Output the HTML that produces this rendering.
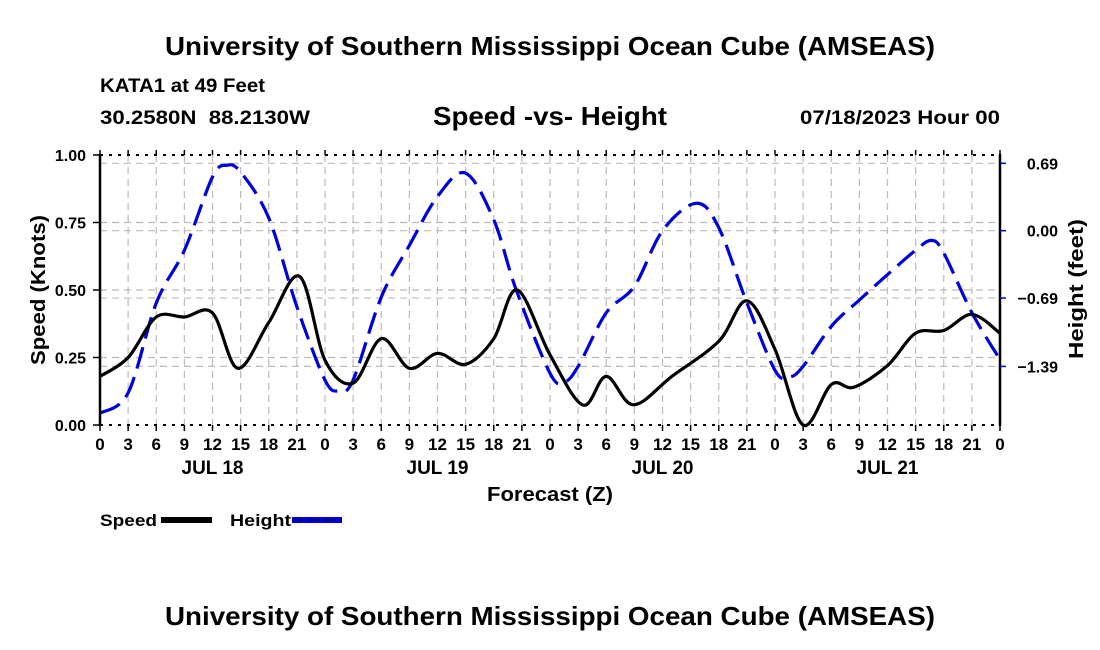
<!DOCTYPE html>
<html><head><meta charset="utf-8"><style>
html,body{margin:0;padding:0;background:#fff;}
svg{display:block;font-family:"Liberation Sans",Arial,sans-serif;font-weight:bold;}
</style></head><body>
<svg id="chart" width="1100" height="650" viewBox="0 0 1100 650" xmlns="http://www.w3.org/2000/svg">
<text x="165" y="55" font-size="26" textLength="770" lengthAdjust="spacingAndGlyphs">University of Southern Mississippi Ocean Cube (AMSEAS)</text>
<text x="100" y="92" font-size="19" textLength="165" lengthAdjust="spacingAndGlyphs">KATA1 at 49 Feet</text>
<text x="100" y="124" font-size="19" textLength="210" lengthAdjust="spacingAndGlyphs" xml:space="preserve">30.2580N  88.2130W</text>
<text x="433" y="125" font-size="26" textLength="234" lengthAdjust="spacingAndGlyphs">Speed -vs- Height</text>
<text x="800" y="124" font-size="19" textLength="200" lengthAdjust="spacingAndGlyphs">07/18/2023 Hour 00</text>
<g id="grid"></g>
<g id="series"></g>
<g id="axes"></g>
<text x="45" y="290" font-size="20" text-anchor="middle" textLength="150" lengthAdjust="spacingAndGlyphs" transform="rotate(-90 45 290)">Speed (Knots)</text>
<text x="1083" y="289" font-size="20" text-anchor="middle" textLength="140" lengthAdjust="spacingAndGlyphs" transform="rotate(-90 1083 289)">Height (feet)</text>
<text x="487" y="501" font-size="20" textLength="126" lengthAdjust="spacingAndGlyphs">Forecast (Z)</text>
<g>
<text x="100" y="526" font-size="17" textLength="57" lengthAdjust="spacingAndGlyphs">Speed</text>
<rect x="161" y="517" width="51" height="6" fill="#000"/>
<text x="230" y="526" font-size="17" textLength="61" lengthAdjust="spacingAndGlyphs">Height</text>
<rect x="292" y="517" width="50" height="6" fill="#0000dd"/>
<line x1="294" y1="520" x2="342" y2="520" stroke="#000066" stroke-width="1.5" stroke-dasharray="10,5"/>
</g>
<text x="165" y="625" font-size="26" textLength="770" lengthAdjust="spacingAndGlyphs">University of Southern Mississippi Ocean Cube (AMSEAS)</text>
</svg>
<script>
const speedHours=[0,3,6,9,12,14.7,18,21.3,24,27,30,33,36,39,42,44.5,48,51.5,54,56.9,61,66,69,72,75,78,80.4,84,87,90,93,96];
const speedValues=[0.18,0.25,0.40,0.40,0.415,0.21,0.38,0.55,0.24,0.155,0.32,0.21,0.265,0.225,0.32,0.50,0.26,0.074,0.18,0.075,0.18,0.31,0.46,0.28,0.0,0.15,0.14,0.22,0.34,0.35,0.41,0.34];
const heightHours=[0,3,6,9,12,13.5,15,18,21,24,25.5,27,30,33,36,39,42,44.4,48,49.5,51,54,57,60,63.6,66,69,72,73.5,75,78,81,84,87,88.7,90,93,96];
const heightValues=[-1.87,-1.66,-0.74,-0.20,0.55,0.67,0.60,0.13,-0.78,-1.53,-1.64,-1.53,-0.68,-0.15,0.35,0.59,0.11,-0.61,-1.46,-1.55,-1.39,-0.84,-0.57,0.0,0.28,0.03,-0.74,-1.43,-1.50,-1.39,-0.98,-0.71,-0.45,-0.20,-0.10,-0.23,-0.84,-1.32];
const speedTicks=[0,0.25,0.5,0.75,1.0];
const speedTickLabels=["0.00","0.25","0.50","0.75","1.00"];
const heightTicks=[0.69,0.0,-0.69,-1.39];
const heightTickLabels=["0.69","0.00","\u22120.69","\u22121.39"];
const dayLabels=["JUL 18","JUL 19","JUL 20","JUL 21"];

const X0=100,X1=1000,Y0=425,Y1=155;
const xs=h=>X0+(X1-X0)*h/96;
const ys=v=>Y0-(Y0-Y1)*v/1.0;
const HMIN=-1.99,HMAX=0.775;
const yh=v=>Y0-(Y0-Y1)*(v-HMIN)/(HMAX-HMIN);
const NS="http://www.w3.org/2000/svg";
function mk(tag,attrs,parent){const e=document.createElementNS(NS,tag);for(const k in attrs)e.setAttribute(k,attrs[k]);parent.appendChild(e);return e;}
const grid=document.getElementById('grid'),ser=document.getElementById('series'),axes=document.getElementById('axes');

for(let h=3;h<96;h+=3){
  const l=mk('line',{x1:xs(h),x2:xs(h),y1:Y1,y2:Y0,stroke:'#bbb','stroke-width':1.2,'stroke-dasharray':'7,5'},grid);
  
  
}
speedTicks.slice(1,4).forEach(v=>{
  const l=mk('line',{x1:X0,x2:X1,y1:ys(v),y2:ys(v),stroke:'#bbb','stroke-width':1.2,'stroke-dasharray':'7,5'},grid);
  
  
});
heightTicks.forEach(v=>{
  const l=mk('line',{x1:X0,x2:X1,y1:yh(v),y2:yh(v),stroke:'#bbb','stroke-width':1.2,'stroke-dasharray':'7,5'},grid);
  
  
});

function smooth(hs,vs,fy){
  const p=hs.map((h,i)=>[xs(h),fy(vs[i])]);
  let d='M'+p[0][0].toFixed(1)+','+p[0][1].toFixed(1);
  for(let i=0;i<p.length-1;i++){
    const a=p[i-1]||p[i],b=p[i],c=p[i+1],e=p[i+2]||c;
    const c1=[b[0]+(c[0]-a[0])/6,b[1]+(c[1]-a[1])/6],c2=[c[0]-(e[0]-b[0])/6,c[1]-(e[1]-b[1])/6];
    d+=' C'+c1.map(n=>n.toFixed(1))+' '+c2.map(n=>n.toFixed(1))+' '+c[0].toFixed(1)+','+c[1].toFixed(1);
  }
  return d;
}
const hp=mk('path',{d:smooth(heightHours,heightValues,yh),fill:'none',stroke:'#0000dd','stroke-width':3.2,'stroke-dasharray':'22,9'},ser);


const sp=mk('path',{d:smooth(speedHours,speedValues,ys),fill:'none',stroke:'#000','stroke-width':3.2,'stroke-linejoin':'round'},ser);



[[X0,Y1,X1,Y1],[X0,Y0,X1,Y0]].forEach(c=>{
  const l=mk('line',{x1:c[0],y1:c[1],x2:c[2],y2:c[3],stroke:'#000','stroke-width':2,'stroke-dasharray':'3,6'},axes);
  
  
});
const la=mk('line',{x1:X0,y1:Y1-1,x2:X0,y2:Y0+1,stroke:'#000','stroke-width':2.5},axes);


const ra=mk('line',{x1:X1,y1:Y1-1,x2:X1,y2:Y0+1,stroke:'#000','stroke-width':2.5},axes);


for(let h=0;h<=96;h+=3){
  const t=mk('line',{x1:xs(h),x2:xs(h),y1:Y0,y2:Y0+6,stroke:'#000','stroke-width':1.5},axes);
  
  
  const t2=mk('line',{x1:xs(h),x2:xs(h),y1:Y1,y2:Y1-5,stroke:'#000','stroke-width':1.5},axes);
  
  
  const lb=mk('text',{x:xs(h),y:Y0+25,'font-size':17,'text-anchor':'middle'},axes);
  lb.textContent=String(h%24);
  
  
}
dayLabels.forEach((d,i)=>{
  const t=mk('text',{x:xs(i*24+12),y:Y0+49,'font-size':19,'text-anchor':'middle'},axes);
  t.textContent=d;
  
  
});
speedTicks.forEach((v,i)=>{
  const t=mk('line',{x1:X0-7,x2:X0,y1:ys(v),y2:ys(v),stroke:'#000','stroke-width':1.5},axes);
  
  
  const lb=mk('text',{x:X0-14,y:ys(v)+6,'font-size':16,'text-anchor':'end'},axes);
  lb.textContent=speedTickLabels[i];
  
  
});
heightTicks.forEach((v,i)=>{
  const t=mk('line',{x1:X1,x2:X1+6,y1:yh(v),y2:yh(v),stroke:'#0000dd','stroke-width':1.5},axes);
  
  
  const lb=mk('text',{x:1058,y:yh(v)+6,'font-size':16,'text-anchor':'end'},axes);
  lb.textContent=heightTickLabels[i];
  
  
});
</script>
</body></html>
